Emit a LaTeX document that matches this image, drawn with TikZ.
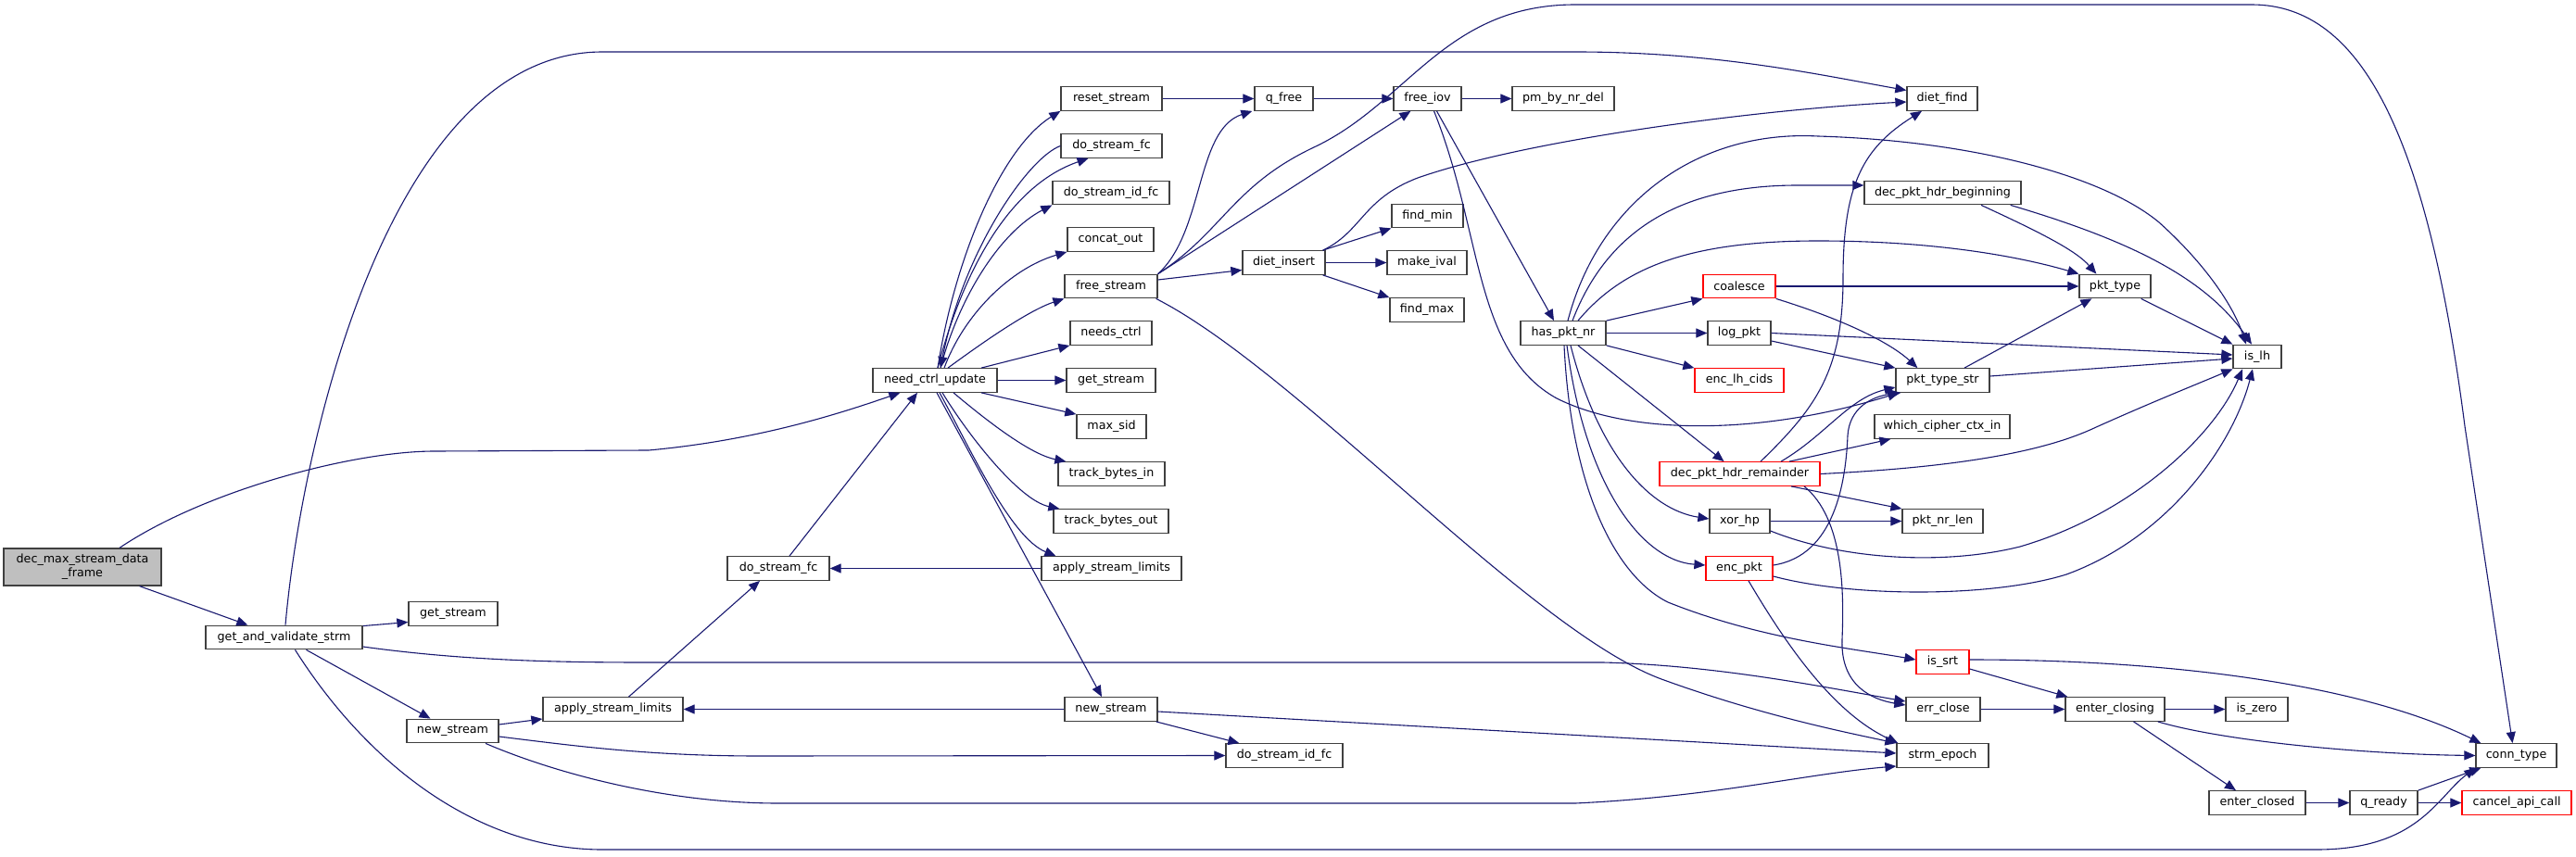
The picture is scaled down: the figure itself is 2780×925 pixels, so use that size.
\documentclass[tikz,border=0pt]{standalone}
\usepackage{fontspec}
\setmainfont{DejaVu Sans}
\usetikzlibrary{arrows.meta}
\definecolor{edgec}{HTML}{191970}
\definecolor{grayfill}{HTML}{BFBFBF}
\definecolor{redb}{HTML}{FF0000}
\definecolor{bordc}{HTML}{404040}
\begin{document}
\begin{tikzpicture}[x=1pt,y=-1pt,
  nb/.style={draw=bordc, line width=1.3pt, fill=white, inner sep=0pt, minimum height=25.5pt, font=\fontsize{12.7}{15}\selectfont, text=black},
  nr/.style={nb, draw=redb},
  cl/.style={draw=edgec, line width=1.1pt, -{Triangle[length=12pt,width=10pt]}}]
\fill[white] (0,0) rectangle (2780,925);
\useasboundingbox (0,0) rectangle (2780,925);
% nodes
\node[nb, fill=grayfill, minimum width=170pt, minimum height=40pt, align=center] (dm) at (89,612) {dec\_max\_stream\_data\\\_frame};
\node[nb, minimum width=169pt] (gv) at (306.5,688) {get\_and\_validate\_strm};
\node[nb, minimum width=96pt] (gs1) at (489,662.5) {get\_stream};
\node[nb, minimum width=99pt] (ns1) at (488.5,789) {new\_stream};
\node[nb, minimum width=151pt] (asl1) at (661.5,765.5) {apply\_stream\_limits};
\node[nb, minimum width=110pt] (dsf1) at (840,613.5) {do\_stream\_fc};
\node[nb, minimum width=134pt] (nu) at (1009,410.5) {need\_ctrl\_update};
\node[nb, minimum width=109pt] (rs) at (1199.5,106.5) {reset\_stream};
\node[nb, minimum width=109pt] (dsf2) at (1199.5,157.5) {do\_stream\_fc};
\node[nb, minimum width=126pt] (dsi2) at (1199,208) {do\_stream\_id\_fc};
\node[nb, minimum width=93pt] (co) at (1198.5,258.5) {concat\_out};
\node[nb, minimum width=100pt] (fs) at (1199,309) {free\_stream};
\node[nb, minimum width=88pt] (nc) at (1199,359.5) {needs\_ctrl};
\node[nb, minimum width=96pt] (gs2) at (1199,410.5) {get\_stream};
\node[nb, minimum width=75pt] (ms) at (1199.5,460.5) {max\_sid};
\node[nb, minimum width=115pt] (tbi) at (1199.5,511.5) {track\_bytes\_in};
\node[nb, minimum width=124pt] (tbo) at (1199,562.5) {track\_bytes\_out};
\node[nb, minimum width=151pt] (asl2) at (1199.5,613.5) {apply\_stream\_limits};
\node[nb, minimum width=100pt] (ns2) at (1199,765.5) {new\_stream};
\node[nb, minimum width=63pt] (qf) at (1385.5,106.5) {q\_free};
\node[nb, minimum width=89pt] (di) at (1385.5,283.5) {diet\_insert};
\node[nb, minimum width=126pt] (dsi1) at (1386,815.5) {do\_stream\_id\_fc};
\node[nb, minimum width=73pt] (fi) at (1540.5,106.5) {free\_iov};
\node[nb, minimum width=77pt] (fmin) at (1540.5,233) {find\_min};
\node[nb, minimum width=86pt] (mi) at (1540,283.5) {make\_ival};
\node[nb, minimum width=80pt] (fmax) at (1540,334.5) {find\_max};
\node[nb, minimum width=110pt] (pm) at (1687,106.5) {pm\_by\_nr\_del};
\node[nb, minimum width=92pt] (hp) at (1687,359.5) {has\_pkt\_nr};
\node[nr, minimum width=78pt] (coal) at (1877,309) {coalesce};
\node[nb, minimum width=68pt] (lp) at (1877,359.5) {log\_pkt};
\node[nr, minimum width=96pt] (elc) at (1877,410.5) {enc\_lh\_cids};
\node[nr, minimum width=173pt] (dphr) at (1877.5,511.5) {dec\_pkt\_hdr\_remainder};
\node[nb, minimum width=65pt] (xh) at (1877.5,562.5) {xor\_hp};
\node[nr, minimum width=72pt] (ep) at (1877,613.5) {enc\_pkt};
\node[nb, minimum width=76pt] (df) at (2096,106.5) {diet\_find};
\node[nb, minimum width=169pt] (dphb) at (2096.5,208) {dec\_pkt\_hdr\_beginning};
\node[nb, minimum width=101pt] (pts) at (2096.5,410.5) {pkt\_type\_str};
\node[nb, minimum width=146pt] (wc) at (2096,460.5) {which\_cipher\_ctx\_in};
\node[nb, minimum width=87pt] (pnl) at (2096.5,562.5) {pkt\_nr\_len};
\node[nr, minimum width=57pt] (srt) at (2096.5,714.5) {is\_srt};
\node[nb, minimum width=80pt] (ec) at (2097,765.5) {err\_close};
\node[nb, minimum width=99pt] (se) at (2096.5,815.5) {strm\_epoch};
\node[nb, minimum width=77pt] (pt) at (2282.5,309) {pkt\_type};
\node[nb, minimum width=107pt] (ecl) at (2282.5,765.5) {enter\_closing};
\node[nb, minimum width=52pt] (il) at (2436,385) {is\_lh};
\node[nb, minimum width=67pt] (iz) at (2435.5,765.5) {is\_zero};
\node[nb, minimum width=104pt] (ecd) at (2436,866.5) {enter\_closed};
\node[nb, minimum width=73pt] (qr) at (2572.5,866.5) {q\_ready};
\node[nb, minimum width=87pt] (ct) at (2715.5,815.5) {conn\_type};
\node[nr, minimum width=118pt] (cac) at (2716,866.5) {cancel\_api\_call};
% edges from dec_max_stream_data_frame
\draw[cl] ([xshift=-24]dm.south east) -- ([xshift=46]gv.north west);
\draw[cl] ([xshift=40]dm.north) .. controls (220,530) and (380,487) .. (469,487) -- (700,486) .. controls (820,475) and (910,445) .. ([xshift=30]nu.south west);
% get_and_validate_strm
\draw[cl] ([yshift=-1]gv.north east) -- ([yshift=-9]gs1.west);
\draw[cl] ([xshift=1.5]gv.north) .. controls (325,480) and (420,56) .. (650,56) -- (1700,56) .. controls (1850,56) and (1960,80) .. ([yshift=9]df.west);
\draw[cl] ([yshift=-10]gv.east) .. controls (500,713) and (600,715) .. (700,715) -- (1730,715) .. controls (1850,718) and (1960,740) .. ([yshift=8.5]ec.west);
\draw[cl] ([xshift=24]gv.south) -- ([xshift=-24]ns1.north);
\draw[cl] ([xshift=12]gv.south) .. controls (400,830) and (520,917) .. (650,917) -- (2500,917) .. controls (2610,917) and (2630,860) .. (ct.south west);
% new_stream (left)
\draw[cl] ([yshift=7]ns1.east) -- ([yshift=-10.5]asl1.west);
\draw[cl] ([yshift=-6]ns1.east) .. controls (620,805) and (700,816) .. (820,816) -- (dsi1.west);
\draw[cl] ([xshift=35.5]ns1.south) .. controls (600,835) and (720,867) .. (840,867) -- (1700,867) .. controls (1850,860) and (1950,835) .. ([yshift=-11.5]se.west);
\draw[cl] ([xshift=17]asl1.north) -- ([xshift=-20]dsf1.south);
\draw[cl] ([xshift=12]dsf1.north) -- ([xshift=-19]nu.south);
% need_ctrl_update
\draw[cl] ([xshift=3]nu.north) .. controls (1030,280) and (1080,160) .. (rs.south west);
\draw[cl] ([xshift=3]nu.north) .. controls (1040,290) and (1090,200) .. ([xshift=-25]dsf2.south);
\draw[cl] (dsf2.west) .. controls (1110,170) and (1040,270) .. ([xshift=6]nu.north);
\draw[cl] ([xshift=6]nu.north) .. controls (1035,320) and (1080,250) .. (dsi2.south west);
\draw[cl] ([xshift=10]nu.north) .. controls (1040,340) and (1090,290) .. (co.south west);
\draw[cl] ([xshift=14]nu.north) .. controls (1060,370) and (1110,335) .. (fs.south west);
\draw[cl] ([xshift=50]nu.north) -- (nc.south west);
\draw[cl] (nu.east) -- (gs2.west);
\draw[cl] ([xshift=50]nu.south) -- (ms.north west);
\draw[cl] ([xshift=20]nu.south) .. controls (1060,450) and (1110,490) .. ([xshift=9]tbi.north west);
\draw[cl] ([xshift=8]nu.south) .. controls (1045,470) and (1100,540) .. ([xshift=7]tbo.north west);
\draw[cl] ([xshift=5]nu.south) .. controls (1045,480) and (1090,580) .. ([xshift=16]asl2.north west);
\draw[cl] ([xshift=2]nu.south) -- ([xshift=-10]ns2.north);
\draw[cl] (asl2.west) -- (dsf1.east);
% new_stream (right)
\draw[cl] (ns2.west) -- (asl1.east);
\draw[cl] ([xshift=-2]ns2.south east) -- ([xshift=15]dsi1.north west);
\draw[cl] ([yshift=-2.5]ns2.east) -- ([yshift=2.5]se.west);
% chain at top
\draw[cl] (rs.east) -- (qf.west);
\draw[cl] (qf.east) -- (fi.west);
\draw[cl] (fi.east) -- (pm.west);
% free_stream
\draw[cl] (fs.north east) .. controls (1300,250) and (1290,140) .. ([xshift=-2]qf.south west);
\draw[cl] (fs.north east) -- ([xshift=19]fi.south west);
\draw[cl] (fs.north east) .. controls (1320,250) and (1330,200) .. (1420,158) .. controls (1520,110) and (1560,5) .. (1700,5) -- (2430,5) .. controls (2550,5) and (2620,150) .. (2660,460) -- ([xshift=-4]ct.north);
\draw[cl] ([yshift=7]fs.east) -- ([yshift=-8]di.west);
\draw[cl] ([xshift=-2]fs.south east) .. controls (1400,400) and (1650,680) .. (1793,733) .. controls (1900,772) and (1990,790) .. (se.north west);
% diet_insert
\draw[cl] ([xshift=-3]di.north east) -- (fmin.south west);
\draw[cl] (di.east) -- (mi.west);
\draw[cl] ([xshift=-3]di.south east) -- (fmax.north west);
\draw[cl] ([xshift=-3]di.north east) .. controls (1470,250) and (1470,215) .. (1530,192) .. controls (1650,150) and (1900,118) .. ([yshift=-3.5]df.west);
% free_iov
\draw[cl] ([xshift=10]fi.south) -- ([xshift=-10]hp.north);
\draw[cl] ([xshift=7]fi.south) .. controls (1600,250) and (1590,380) .. (1680,430) .. controls (1760,470) and (1900,470) .. ([xshift=4]pts.south west);
% has_pkt_nr
\draw[cl] ([xshift=5]hp.north) .. controls (1725,220) and (1830,140) .. (1962,147) .. controls (2130,152) and (2270,190) .. (2330,240) .. controls (2380,285) and (2410,330) .. ([xshift=-12]il.north);
\draw[cl] ([xshift=10]hp.north) .. controls (1730,260) and (1800,200) .. (1940,200) -- ([yshift=8]dphb.west);
\draw[cl] ([xshift=16]hp.north) .. controls (1750,290) and (1820,260) .. (1962,260) .. controls (2100,260) and (2190,280) .. (pt.north west);
\draw[cl] (hp.north east) -- (coal.south west);
\draw[cl] (hp.east) -- (lp.west);
\draw[cl] (hp.south east) -- (elc.north west);
\draw[cl] ([xshift=16]hp.south) -- ([xshift=-17]dphr.north);
\draw[cl] ([xshift=8]hp.south) .. controls (1725,490) and (1780,550) .. ([yshift=2.5]xh.west);
\draw[cl] ([xshift=4]hp.south) .. controls (1710,520) and (1770,605) .. ([yshift=3.5]ep.west);
\draw[cl] ([xshift=1]hp.south) .. controls (1695,520) and (1740,620) .. (1800,650) .. controls (1900,690) and (2000,700) .. ([yshift=2.5]srt.west);
% coalesce, log_pkt, pkt_type_str, pkt_type
\draw[cl] (coal.east) -- (pt.west);
\draw[cl] (coal.south east) .. controls (1990,345) and (2040,370) .. ([xshift=24]pts.north west);
\draw[cl] (lp.east) -- ([yshift=2]il.west);
\draw[cl] ([yshift=-8.5]lp.east) -- (pts.north west);
\draw[cl] ([xshift=23.5]pts.north) -- ([xshift=14]pt.south west);
\draw[cl] ([yshift=4.5]pts.east) -- ([yshift=-2]il.west);
\draw[cl] ([xshift=-11]pt.south east) -- (il.north west);
\draw[cl] ([xshift=41.5]dphb.south) .. controls (2200,250) and (2240,270) .. ([xshift=19]pt.north west);
\draw[cl] ([xshift=-12]dphb.south east) .. controls (2300,260) and (2380,300) .. ([xshift=-6]il.north);
% dec_pkt_hdr_remainder
\draw[cl] ([xshift=22.5]dphr.north) .. controls (1960,440) and (1989,400) .. (1989,300) .. controls (1989,200) and (2010,160) .. ([xshift=-22]df.south);
\draw[cl] ([xshift=44.5]dphr.north) .. controls (1970,470) and (1995,430) .. ([yshift=-7.5]pts.west);
\draw[cl] ([xshift=53.5]dphr.north) -- ([xshift=18]wc.south west);
\draw[cl] (dphr.east) .. controls (2100,505) and (2200,490) .. (2260,462) .. controls (2320,435) and (2370,415) .. (il.south west);
\draw[cl] ([xshift=55.5]dphr.south) -- (pnl.north west);
\draw[cl] ([xshift=69.5]dphr.south) .. controls (1990,560) and (1990,640) .. (1988,690) .. controls (1986,740) and (2020,755) .. ([yshift=4.5]ec.west);
% xor_hp
\draw[cl] (xh.east) -- (pnl.west);
\draw[cl] ([yshift=-10.5]xh.east) .. controls (1990,605) and (2100,610) .. (2180,590) .. controls (2300,555) and (2390,470) .. ([xshift=-16]il.south);
% enc_pkt
\draw[cl] ([yshift=3.5]ep.east) .. controls (1980,600) and (1992,520) .. (1994,470) .. controls (1996,440) and (2020,428) .. ([xshift=6]pts.south west);
\draw[cl] ([yshift=-8.5]ep.east) .. controls (2000,645) and (2150,645) .. (2230,620) .. controls (2340,580) and (2410,480) .. ([xshift=-5]il.south);
\draw[cl] ([xshift=10]ep.south) .. controls (1930,700) and (1980,770) .. ([xshift=2]se.north west);
% closing chain
\draw[cl] ([yshift=2.5]srt.east) .. controls (2350,712) and (2550,740) .. ([xshift=6]ct.north west);
\draw[cl] ([yshift=-7.5]srt.east) -- ([xshift=3]ecl.north west);
\draw[cl] (ec.east) -- (ecl.west);
\draw[cl] (ecl.east) -- (iz.west);
\draw[cl] ([xshift=-8]ecl.south east) .. controls (2400,800) and (2550,814) .. (ct.west);
\draw[cl] ([xshift=20]ecl.south) -- ([xshift=-23]ecd.north);
\draw[cl] (ecd.east) -- (qr.west);
\draw[cl] (qr.east) -- (cac.west);
\draw[cl] (qr.north east) -- ([xshift=6]ct.south west);
\end{tikzpicture}
\end{document}
